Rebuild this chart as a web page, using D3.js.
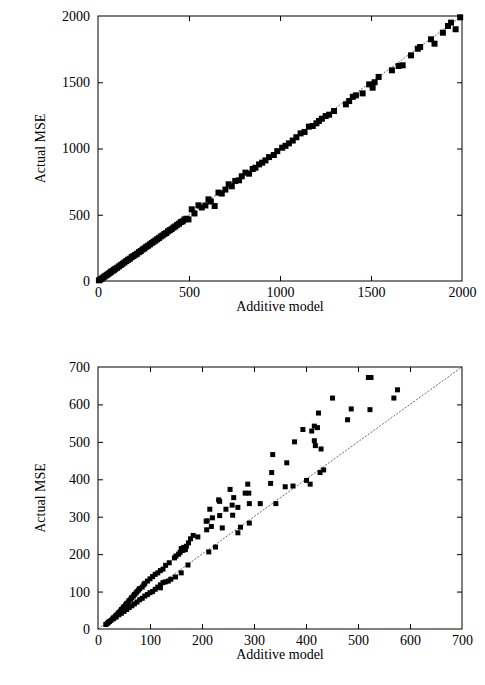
<!DOCTYPE html>
<html><head><meta charset="utf-8">
<script src="https://cdn.jsdelivr.net/npm/d3@7"></script>
<style>body{margin:0;background:#fff}text{font-family:"Liberation Serif","Times New Roman",serif;font-size:14px;fill:#000}</style>
</head><body>
<svg id="c" width="485" height="685"></svg>
<script>
// top panel: additive model vs actual MSE (range 0-2000)
const topTicks = [0, 500, 1000, 1500, 2000];
const topPoints = [
  [5,5],[12,10],[20,18],[28,26],[35,33],[42,40],[50,47],[58,55],[65,62],[72,70],[80,77],[88,84],
  [95,92],[105,100],[115,110],[125,120],[135,130],[145,140],[155,150],[165,160],[175,168],[185,180],
  [195,188],[205,198],[215,206],[225,218],[235,226],[245,238],[255,246],[265,258],[275,266],[285,276],
  [295,286],[305,296],[315,305],[325,315],[335,324],[345,336],[355,344],[365,355],[375,362],[385,375],
  [395,384],[405,392],[415,404],[425,412],[435,424],[445,432],[455,445],[465,450],[475,464],[485,470],
  [497,465],[515,541],[530,510],[552,571],[570,555],[590,570],[607,616],[620,600],[641,566],[662,667],
  [680,660],[700,690],[718,730],[735,715],[754,755],[775,760],[790,790],[810,818],[830,810],[850,845],
  [865,855],[885,880],[902,893],[920,910],[940,935],[966,951],[985,980],[1012,1006],[1030,1020],
  [1049,1039],[1070,1060],[1090,1085],[1113,1114],[1135,1125],[1159,1165],[1180,1170],[1200,1190],
  [1214,1208],[1230,1225],[1251,1245],[1270,1255],[1297,1283],[1362,1333],[1380,1358],[1400,1390],
  [1417,1401],[1454,1416],[1490,1484],[1509,1459],[1520,1500],[1542,1540],[1615,1590],[1652,1623],
  [1674,1628],[1720,1703],[1757,1753],[1770,1766],[1830,1824],[1849,1791],[1895,1874],[1923,1925],
  [1940,1950],[1965,1900],[1990,1990]
];
// bottom panel (range 0-700)
const botTicks = [0, 100, 200, 300, 400, 500, 600, 700];
const botPoints = [
  [15,12],[18,15],[20,18],[22,20],[25,23],[28,27],[30,30],[33,33],[35,37],[38,40],[40,44],[43,48],
  [45,52],[48,56],[50,60],[53,64],[55,68],[58,72],[60,76],[63,80],[65,84],[68,88],[70,92],[73,96],
  [75,100],[78,104],[80,108],[85,112],[88,118],[90,122],[95,128],[100,134],[105,140],[110,146],
  [115,150],[120,156],[125,160],[130,170],[137,177],[147,190],[150,195],[155,200],
  [30,28],[35,32],[40,38],[45,42],[50,47],[55,52],[60,57],[65,62],[70,67],[75,72],[80,78],[85,82],
  [90,88],[95,92],[100,97],[105,100],[110,106],[115,112],[120,118],[125,124],[130,126],[120,110],
  [135,128],[140,133],[149,139],[160,150],[173,171],
  [158,205],[160,215],[163,210],[165,218],[168,212],[170,221],[174,230],[178,241],[183,250],[192,246],
  [209,265],[213,206],[226,219],[218,274],[239,270],[274,272],[291,283],[269,257],[210,289],[208,288],
  [220,297],[234,303],[259,304],[215,320],[246,320],[269,325],[258,331],[291,335],[312,335],[342,335],
  [232,345],[234,341],[254,373],[261,351],[288,387],[283,363],[290,363],[332,389],[360,380],[375,382],
  [401,397],[408,387],[427,418],[434,425],[334,418],[363,444],[336,466],[378,500],[416,503],[418,490],
  [429,481],[394,533],[416,542],[422,538],[411,529],[424,577],[480,559],[487,588],[523,586],[451,617],
  [569,617],[576,639],[520,672],[525,672]
];

const svg = d3.select('#c');

function panel(top, bottom, max, ticks, points, size) {
  const x = d3.scaleLinear().domain([0, max]).range([98, 462]);
  const y = d3.scaleLinear().domain([0, max]).range([bottom, top]);
  const g = svg.append('g');

  g.append('line')
    .attr('x1', x(0)).attr('y1', y(0)).attr('x2', x(max)).attr('y2', y(max))
    .attr('stroke', '#444').attr('stroke-width', 0.8).attr('stroke-dasharray', '2,1.5');

  g.selectAll('rect.pt').data(points).enter().append('rect')
    .attr('class', 'pt')
    .attr('x', d => x(d[0]) - size / 2).attr('y', d => y(d[1]) - size / 2)
    .attr('width', size).attr('height', size).attr('fill', '#000');

  const ax = [
    [d3.axisBottom(x), `translate(0,${bottom})`, 6],
    [d3.axisTop(x), `translate(0,${top})`, 6],
    [d3.axisLeft(y), 'translate(98,0)', 8],
    [d3.axisRight(y), 'translate(462,0)', 6]
  ];
  ax.forEach(([a, t, pad], i) => {
    const s = g.append('g').attr('transform', t)
      .call(a.tickValues(ticks).tickFormat(d3.format('d')).tickSizeInner(-5).tickSizeOuter(0).tickPadding(pad));
    s.select('.domain').remove();
    s.selectAll('line').attr('stroke', '#000');
    s.selectAll('text').style('font-family', '"Liberation Serif",serif').style('font-size', '14px');
    if (i % 2 === 1) s.selectAll('text').remove();
    s.selectAll('.tick').filter(d => d === 0 || d === max).select('line').remove();
  });

  g.append('rect').attr('x', 98).attr('y', top).attr('width', 364).attr('height', bottom - top)
    .attr('fill', 'none').attr('stroke', '#000').attr('stroke-width', 1);

  g.append('text').attr('x', 280).attr('y', bottom + 30).attr('text-anchor', 'middle').text('Additive model');
  g.append('text').attr('transform', `translate(45,${(top + bottom) / 2}) rotate(-90)`)
    .attr('text-anchor', 'middle').text('Actual MSE');
}

panel(16, 281, 2000, topTicks, topPoints, 6);
panel(367, 629, 700, botTicks, botPoints, 5);
</script>
</body></html>
